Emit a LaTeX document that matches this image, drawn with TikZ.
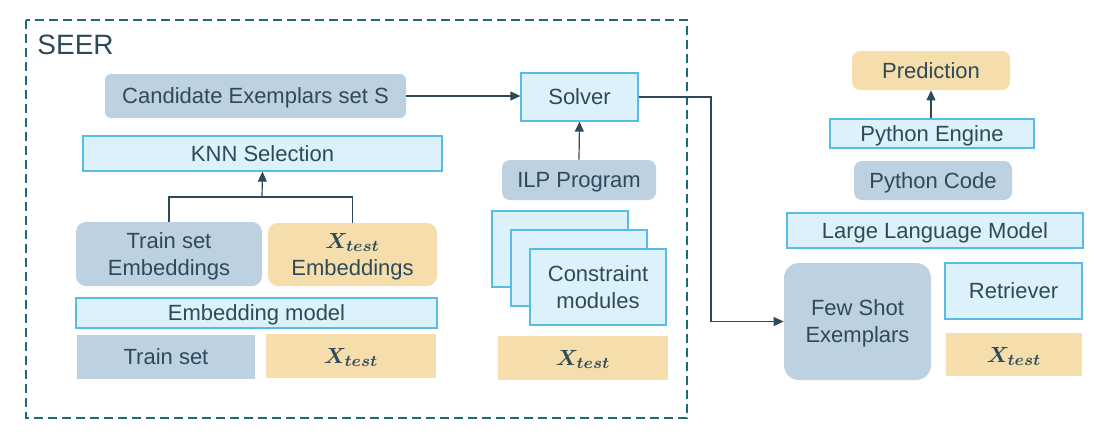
\documentclass[tikz,border=0pt]{standalone}
\usepackage{fontspec}
\setmainfont{Liberation Sans}
\usepackage{amsmath}
\usepackage{bm}
\usetikzlibrary{calc,positioning,arrows.meta}

\definecolor{slatefill}{HTML}{BDD1E1}
\definecolor{iceFill}{HTML}{DCF1F9}
\definecolor{iceLine}{HTML}{56BDE8}
\definecolor{sandFill}{HTML}{F5DEAC}
\definecolor{inkText}{HTML}{2E4A5A}
\definecolor{seerLine}{HTML}{1D6A80}
\newcommand{\xtest}{$\bm{X_{test}}$}

\begin{document}
\begin{tikzpicture}[
                x=0.5pt, y=-0.5pt,
                every node/.style={text=inkText, font=\fontsize{11}{13.5}\selectfont, align=center, inner sep=0pt, text depth=0pt},
                data/.style={fill=slatefill, rounded corners=3pt},
                module/.style={fill=iceFill, draw=iceLine, line width=0.6pt},
                query/.style={fill=sandFill},
                link/.style={draw=inkText, line width=0.6pt},
                feed/.style={link, -{Triangle[length=5pt,width=4.5pt]}}
            ]
                \useasboundingbox (0,0) rectangle (1097,447);
                % SEER frame
                \draw[seerLine, line width=1pt, dash pattern=on 4.5pt off 2.5pt] (26,20) rectangle (687,418);
                \node[anchor=west, font=\fontsize{14}{16}\selectfont] (seer) at (37,45) {SEER};

                % left column
                \node[data, minimum width=150.5pt, minimum height=22pt] (cand) at (255.5,96) {Candidate Exemplars set S};
                \node[module, minimum width=179.5pt, minimum height=17.5pt] (knn) at (262.5,153.5) {KNN Selection};
                \node[data, rounded corners=5pt, minimum width=93pt, minimum height=32pt] (trainemb) at (169,254) {Train set\\Embeddings};
                \node[query, rounded corners=5pt, minimum width=84.5pt, minimum height=31.5pt] (testemb) at (352.5,254.5) {\xtest\\Embeddings};
                \node[module, minimum width=180.5pt, minimum height=15pt] (embmodel) at (256.5,313) {Embedding model};
                \node[data, rounded corners=0pt, minimum width=89pt, minimum height=22pt] (train) at (166,357) {Train set};
                \node[query, minimum width=85pt, minimum height=22pt] (testA) at (351,356) {\xtest};

                % middle column
                \node[module, minimum width=58.5pt, minimum height=24pt] (solver) at (579.5,97) {Solver};
                \node[data, rounded corners=4pt, minimum width=77pt, minimum height=20pt] (ilp) at (579,180) {ILP Program};
                \foreach \i/\cx/\cy in {1/560/249, 2/579/268} {
                    \node[module, line width=1pt, minimum width=68pt, minimum height=38pt] (cons-\i) at (\cx,\cy) {};
                }
                \node[module, line width=1pt, minimum width=68pt, minimum height=38pt] (cons-3) at (598,287) {Constraint\\modules};
                \node[query, minimum width=85pt, minimum height=22pt] (testB) at (583,358) {\xtest};

                % right column
                \node[data, rounded corners=7.5pt, minimum width=73.5pt, minimum height=58.5pt] (fewshot) at (857.5,321.5) {Few Shot\\Exemplars};
                \node[module, minimum width=68.5pt, minimum height=28pt] (retr) at (1013.5,291) {Retriever};
                \node[query, minimum width=68pt, minimum height=21.5pt] (testC) at (1014,354.5) {\xtest};
                \node[module, minimum width=148pt, minimum height=17.5pt] (llm) at (935,230.5) {Large Language Model};
                \node[data, rounded corners=4pt, minimum width=79pt, minimum height=19.5pt] (pycode) at (933,180.5) {Python Code};
                \node[module, minimum width=102pt, minimum height=14.5pt] (pyeng) at (932,133.5) {Python Engine};
                \node[query, rounded corners=4pt, minimum width=79pt, minimum height=19.5pt] (pred) at (931,70.5) {Prediction};

                % connectors
                \coordinate (knnjoin) at (262,197);
                \draw[link] (trainemb.north) |- (knnjoin) -| (testemb.north);
                \draw[feed] (knnjoin) -- (knn.south);
                \draw[feed] (cand.east) -- (cand.east -| solver.west);
                \draw[feed] (ilp.north) -- (solver.south);
                \coordinate (turn) at (711,97);
                \draw[feed] (solver.east) -- (turn) |- (fewshot.west);
                \draw[feed] (pyeng.north -| pred.south) -- (pred.south);
            \end{tikzpicture}
\end{document}
